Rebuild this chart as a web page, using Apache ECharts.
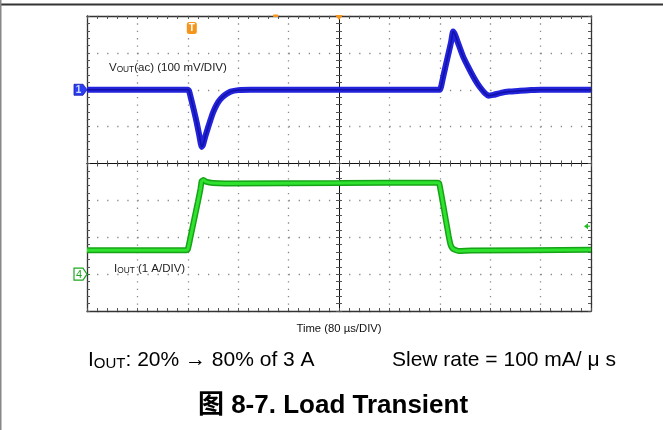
<!DOCTYPE html>
<html>
<head>
<meta charset="utf-8">
<script src="https://cdn.jsdelivr.net/npm/echarts@6/dist/echarts.min.js"></script>
<style>
html,body{margin:0;padding:0;background:#fff;}
#c{width:663px;height:430px;}
</style>
</head>
<body>
<div id="c"></div>
<script>
// ---- data (time in µs, Vout ac in mV, Iout in A) ----
var tVout = [0, 160, 162, 166, 170, 174, 178, 182, 184, 188, 192, 196, 200, 206, 212, 220, 228, 240, 260,
             560, 562, 566, 570, 574, 578, 581, 584, 590, 597, 605, 613, 620, 626, 632, 637, 645, 656, 670, 687, 705, 720, 800];
var vout  = [0, 0, -3, -30, -58, -88, -122, -155, -150, -125, -103, -82, -62, -40, -25, -13, -5, -1, 0,
             0, 8, 40, 70, 100, 130, 158, 150, 122, 90, 62, 36, 16, 2, -10, -16, -14, -9, -5, -3, -1, 0, 0];
var tIout = [0, 158, 160, 164, 170, 176, 180, 182, 185, 190, 200, 220, 400, 557, 559, 562, 566, 570, 574, 577, 580, 584, 590, 610, 800];
var iout  = [0.65, 0.65, 0.67, 0.98, 1.47, 1.96, 2.3, 2.52, 2.55, 2.5, 2.47, 2.46, 2.47, 2.48, 2.46, 2.2, 1.82, 1.43, 1.04, 0.8, 0.7, 0.66, 0.63, 0.64, 0.66];
var triggerLevel = 1.3; // A, ch4 trigger arrow

var voutLabel = 'V{s|OUT}(ac) (100 mV/DIV)';
var ioutLabel = 'I{s|OUT} (1 A/DIV)';
var xAxisName = 'Time (80 µs/DIV)';
var caption1 = 'I{s|OUT}: 20% → 80% of 3 A';
var caption2 = 'Slew rate = 100 mA/ μ s';
var figTitle = '图 8-7. Load Transient';

function zip(a, b) { return a.map(function (v, i) { return [v, b[i]]; }); }

var FONT = '"Liberation Sans", Arial, "Noto Sans CJK SC", sans-serif';
var chart = echarts.init(document.getElementById('c'), null, {renderer: 'canvas'});

var borderLine = {show: true, onZero: false, lineStyle: {color: '#333', width: 1.3}};
var centerLine = {show: true, onZero: true, lineStyle: {color: '#111', width: 1}};
var tick = {show: true, inside: true, length: 3, lineStyle: {color: '#555', width: 1}};
var minor = {show: true, splitNumber: 5, length: 3, lineStyle: {color: '#555', width: 1}};

var option = {
  animation: false,
  backgroundColor: '#fff',
  grid: {left: 87, top: 16, width: 504, height: 295, containLabel: false},
  xAxis: [
    {type: 'value', min: 0, max: 800, interval: 80, position: 'bottom',
     axisLine: borderLine, axisTick: tick, minorTick: minor, axisLabel: {show: false},
     name: xAxisName, nameLocation: 'middle', nameGap: 12,
     nameTextStyle: {fontFamily: FONT, fontSize: 11.3, color: '#111'},
     splitLine: {show: true, lineStyle: {color: '#8a8a8a', width: 1.3, type: [1.3, 6.07]}}},
    {type: 'value', min: 0, max: 800, interval: 80, position: 'top',
     axisLine: borderLine, axisTick: tick, minorTick: minor, axisLabel: {show: false}, splitLine: {show: false}},
    {type: 'value', min: 0, max: 800, interval: 80, position: 'bottom',
     axisLine: Object.assign({onZeroAxisIndex: 2}, centerLine), axisTick: tick, minorTick: minor,
     axisLabel: {show: false}, splitLine: {show: false}},
    {type: 'value', min: 0, max: 800, interval: 80, position: 'top',
     axisLine: Object.assign({onZeroAxisIndex: 2}, centerLine), axisTick: tick, minorTick: minor,
     axisLabel: {show: false}, splitLine: {show: false}},
    {type: 'value', min: -5, max: 5, show: false}
  ],
  yAxis: [
    {type: 'value', min: -600, max: 200, interval: 100, position: 'left',
     axisLine: borderLine, axisTick: tick, minorTick: minor, axisLabel: {show: false},
     splitLine: {show: true, lineStyle: {color: '#8a8a8a', width: 1.3, type: [1.3, 8.78]}}},
    {type: 'value', min: -1, max: 7, interval: 1, position: 'right',
     axisLine: borderLine, axisTick: tick, minorTick: minor, axisLabel: {show: false}, splitLine: {show: false}},
    {type: 'value', min: -4, max: 4, interval: 1, show: false},
    {type: 'value', min: -4, max: 4, interval: 1, position: 'left',
     axisLine: Object.assign({onZeroAxisIndex: 4}, centerLine), axisTick: tick, minorTick: minor,
     axisLabel: {show: false}, splitLine: {show: false}},
    {type: 'value', min: -4, max: 4, interval: 1, position: 'right',
     axisLine: Object.assign({onZeroAxisIndex: 4}, centerLine), axisTick: tick, minorTick: minor,
     axisLabel: {show: false}, splitLine: {show: false}}
  ],
  series: [
    {type: 'line', name: 'Vout', xAxisIndex: 0, yAxisIndex: 0, data: zip(tVout, vout),
     showSymbol: false, smooth: 0.15, lineStyle: {color: '#2323dc', width: 6}, z: 5},
    {type: 'line', name: 'Vout core', xAxisIndex: 0, yAxisIndex: 0, data: zip(tVout, vout),
     showSymbol: false, smooth: 0.15, lineStyle: {color: '#0c0c9c', width: 1.6, opacity: 0.8}, z: 6},
    {type: 'line', name: 'Iout', xAxisIndex: 0, yAxisIndex: 1, data: zip(tIout, iout),
     showSymbol: false, smooth: 0.15, lineStyle: {color: '#17a317', width: 6}, z: 5},
    {type: 'line', name: 'Iout core', xAxisIndex: 0, yAxisIndex: 1, data: zip(tIout, iout),
     showSymbol: false, smooth: 0.15, lineStyle: {color: '#2ee22e', width: 3}, z: 6}
  ]
};
chart.setOption(option);

// decorations positioned through the axes' scales
var p1 = chart.convertToPixel({xAxisIndex: 0, yAxisIndex: 0}, [0, 0]);       // ch1 ground
var p4 = chart.convertToPixel({xAxisIndex: 0, yAxisIndex: 1}, [0, 0]);       // ch4 ground
var pT = chart.convertToPixel({xAxisIndex: 0, yAxisIndex: 0}, [160, 200]);   // trigger time, top
var pC = chart.convertToPixel({xAxisIndex: 0, yAxisIndex: 0}, [400, 200]);   // center, top
var pTL = chart.convertToPixel({xAxisIndex: 0, yAxisIndex: 1}, [800, triggerLevel]);
var pS = chart.convertToPixel({xAxisIndex: 0, yAxisIndex: 0}, [232, 200]);

var richSmall = {s: {fontFamily: FONT, fontSize: 8.3, color: '#222', padding: [3, 0, 0, 0]}};
var richCap = {s: {fontFamily: FONT, fontSize: 15, color: '#000', padding: [8, 0, 0, 0]}};

chart.setOption({
  graphic: [
    // page frame
    {type: 'line', shape: {x1: 0, y1: 4.5, x2: 663, y2: 4.5}, style: {stroke: '#333', lineWidth: 2}},
    {type: 'line', shape: {x1: 0.75, y1: 0, x2: 0.75, y2: 430}, style: {stroke: '#888', lineWidth: 1.5}},
    // ch1 marker
    {type: 'polygon', shape: {points: [[p1[0] - 13, p1[1] - 5.5], [p1[0] - 4, p1[1] - 5.5], [p1[0], p1[1]], [p1[0] - 4, p1[1] + 5.5], [p1[0] - 13, p1[1] + 5.5]]},
     style: {fill: '#2b3df0', stroke: '#1a1ab0', lineWidth: 0.8}, z: 10},
    {type: 'text', x: p1[0] - 8.5, y: p1[1] + 0.5, style: {text: '1', fill: '#cfe0ff', font: 'bold 10px ' + FONT, textAlign: 'center', textVerticalAlign: 'middle'}, z: 11},
    // ch4 marker
    {type: 'polygon', shape: {points: [[p4[0] - 13, p4[1] - 6], [p4[0] - 4, p4[1] - 6], [p4[0], p4[1]], [p4[0] - 4, p4[1] + 6], [p4[0] - 13, p4[1] + 6]]},
     style: {fill: '#fff', stroke: '#1fa81f', lineWidth: 1.2}, z: 10},
    {type: 'text', x: p4[0] - 8, y: p4[1] + 0.5, style: {text: '4', fill: '#1fa81f', font: '11px ' + FONT, textAlign: 'center', textVerticalAlign: 'middle'}, z: 11},
    // trigger "T" marker
    {type: 'rect', shape: {x: pT[0] - 1, y: pT[1] + 6, width: 10, height: 12, r: 2.5}, style: {fill: '#f6951c'}, z: 10},
    {type: 'text', x: pT[0] + 4, y: pT[1] + 12.5, style: {text: 'T', fill: '#fff', font: 'bold 10px ' + FONT, textAlign: 'center', textVerticalAlign: 'middle'}, z: 11},
    // orange markers on top border
    {type: 'polygon', shape: {points: [[pC[0] - 4, pC[1] - 1], [pC[0] + 4, pC[1] - 1], [pC[0], pC[1] + 4]]}, style: {fill: '#f6951c'}, z: 10},
    {type: 'rect', shape: {x: pS[0] + 40, y: pS[1] - 1.5, width: 5, height: 2.5}, style: {fill: '#f6951c'}, z: 10},
    // ch4 trigger level arrow
    {type: 'polygon', shape: {points: [[pTL[0] - 7, pTL[1]], [pTL[0] - 3, pTL[1] - 3], [pTL[0] - 3, pTL[1] + 3]]}, style: {fill: '#22bb22'}, z: 10},
    {type: 'line', shape: {x1: pTL[0] - 4, y1: pTL[1], x2: pTL[0] - 1, y2: pTL[1]}, style: {stroke: '#22bb22', lineWidth: 1.2}, z: 10},
    // trace labels
    {type: 'text', x: 109, y: 68, style: {text: voutLabel, rich: richSmall, fill: '#222', font: '11.5px ' + FONT, textVerticalAlign: 'middle'}, z: 12},
    {type: 'text', x: 114, y: 269, style: {text: ioutLabel, rich: richSmall, fill: '#222', font: '11.5px ' + FONT, textVerticalAlign: 'middle'}, z: 12},
    // captions
    {type: 'text', x: 88, y: 360, style: {text: caption1, rich: richCap, fill: '#000', font: '21px ' + FONT, textVerticalAlign: 'middle'}},
    {type: 'text', x: 392, y: 360, style: {text: caption2, fill: '#000', font: '21px ' + FONT, textVerticalAlign: 'middle'}},
    {type: 'text', x: 333, y: 406, style: {text: figTitle, fill: '#000', font: 'bold 26px ' + FONT, textAlign: 'center', textVerticalAlign: 'middle'}}
  ]
});
</script>
</body>
</html>
